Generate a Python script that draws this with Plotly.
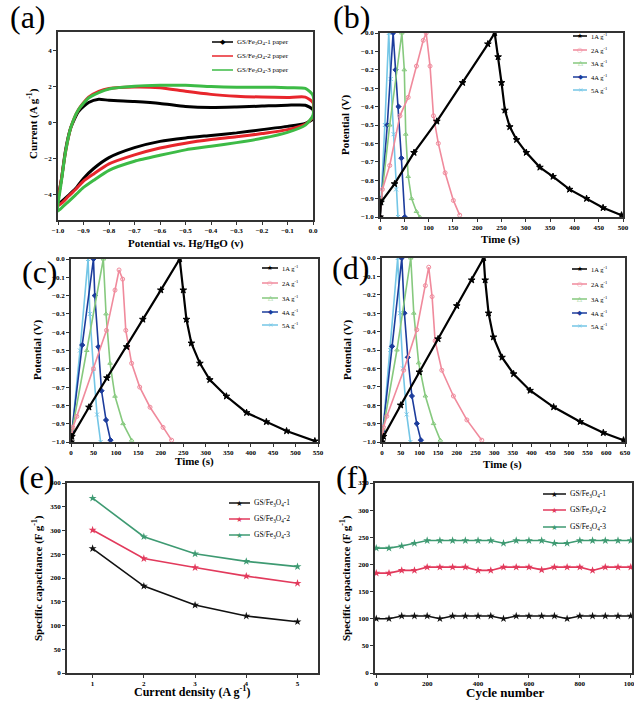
import plotly.graph_objects as go

W, H = 634, 704
FONT = "Liberation Serif"

# ---------------- (a) CV data ----------------
cv_pot_fwd = [-1.0, -0.985, -0.97, -0.95, -0.92, -0.88, -0.84, -0.8, -0.7, -0.6, -0.5, -0.4, -0.3, -0.2, -0.1, -0.03, 0.0]
cv_pot_rev = [0.0, -0.03, -0.1, -0.2, -0.3, -0.4, -0.5, -0.6, -0.7, -0.8, -0.86, -0.9, -0.93, -0.96, -0.98, -1.0]
cv1_fwd = [-4.5, -3.0, -1.5, -0.3, 0.6, 1.1, 1.28, 1.22, 1.15, 1.05, 0.88, 0.82, 0.85, 0.9, 0.95, 0.95, 0.7]
cv1_rev = [0.2, -0.05, -0.22, -0.4, -0.58, -0.72, -0.86, -1.05, -1.4, -1.95, -2.55, -3.1, -3.65, -4.05, -4.3, -4.5]
cv2_fwd = [-4.6, -3.0, -1.6, -0.3, 0.7, 1.4, 1.72, 1.88, 1.96, 1.92, 1.72, 1.55, 1.45, 1.4, 1.38, 1.4, 1.1]
cv2_rev = [0.3, -0.1, -0.4, -0.62, -0.8, -0.95, -1.15, -1.42, -1.8, -2.3, -2.85, -3.25, -3.7, -4.1, -4.4, -4.6]
cv3_fwd = [-4.9, -3.1, -1.6, -0.3, 0.7, 1.35, 1.65, 1.85, 2.0, 2.05, 2.05, 1.98, 1.95, 1.95, 1.92, 1.88, 1.5]
cv3_rev = [0.4, -0.15, -0.55, -0.88, -1.12, -1.32, -1.52, -1.82, -2.15, -2.65, -3.2, -3.6, -4.0, -4.4, -4.65, -4.9]
cv_names = ["GS/Fe<sub>3</sub>O<sub>4</sub>-1 paper", "GS/Fe<sub>3</sub>O<sub>4</sub>-2 paper", "GS/Fe<sub>3</sub>O<sub>4</sub>-3 paper"]

# ---------------- (b) GCD ----------------
b_t1 = [0, 2, 30, 70, 117, 170, 222, 236, 243, 250, 257, 267, 281, 301, 329, 356, 390, 425, 459, 497]
b_v1 = [-1.0, -0.92, -0.82, -0.65, -0.48, -0.27, -0.06, 0.0, -0.13, -0.27, -0.42, -0.51, -0.58, -0.65, -0.73, -0.78, -0.85, -0.9, -0.95, -0.99]
b_t2 = [0, 5, 20, 41, 58, 75, 89, 95, 103, 110, 120, 134, 151, 164]
b_v2 = [-1.0, -0.85, -0.72, -0.45, -0.35, -0.18, -0.04, 0.0, -0.18, -0.45, -0.6, -0.76, -0.91, -0.99]
b_t3 = [0, 3, 20, 45, 50, 53, 58, 65, 75, 82]
b_v3 = [-1.0, -0.9, -0.5, 0.0, -0.2, -0.55, -0.78, -0.9, -0.97, -1.0]
b_t4 = [0, 3, 15, 27, 32, 38, 44, 51]
b_v4 = [-1.0, -0.9, -0.5, 0.0, -0.2, -0.4, -0.68, -1.0]
b_t5 = [0, 2, 10, 18, 22, 28, 33, 37]
b_v5 = [-1.0, -0.92, -0.5, 0.0, -0.25, -0.55, -0.85, -1.0]

# ---------------- (c) GCD ----------------
c_t1 = [0, 2, 40, 80, 124, 160, 200, 242, 250, 257, 268, 287, 309, 346, 391, 435, 480, 543]
c_v1 = [-1.0, -0.97, -0.81, -0.65, -0.48, -0.33, -0.17, 0.0, -0.17, -0.33, -0.46, -0.57, -0.66, -0.75, -0.84, -0.89, -0.94, -0.995]
c_t2 = [0, 4, 13, 50, 79, 98, 107, 115, 122, 135, 153, 176, 205, 224]
c_v2 = [-1.0, -0.92, -0.86, -0.6, -0.39, -0.17, -0.06, -0.11, -0.39, -0.57, -0.7, -0.81, -0.92, -0.99]
c_t3 = [0, 3, 35, 72, 78, 87, 98, 116, 135]
c_v3 = [-1.0, -0.93, -0.5, 0.0, -0.3, -0.57, -0.75, -0.9, -0.99]
c_t4 = [0, 2, 25, 50, 53, 61, 68, 78, 88]
c_v4 = [-1.0, -0.94, -0.47, 0.0, -0.2, -0.48, -0.72, -0.88, -0.99]
c_t5 = [0, 2, 20, 38, 42, 50, 58, 66]
c_v5 = [-1.0, -0.95, -0.5, 0.0, -0.3, -0.6, -0.85, -1.0]

# ---------------- (d) GCD ----------------
d_t1 = [0, 4, 50, 100, 150, 200, 240, 272, 276, 285, 298, 321, 352, 396, 459, 530, 592, 646]
d_v1 = [-1.0, -0.97, -0.8, -0.62, -0.44, -0.26, -0.12, 0.0, -0.12, -0.3, -0.43, -0.54, -0.63, -0.72, -0.81, -0.89, -0.95, -0.99]
d_t2 = [0, 4, 13, 58, 93, 116, 125, 134, 142, 160, 191, 227, 267]
d_v2 = [-1.0, -0.92, -0.86, -0.61, -0.39, -0.15, -0.05, -0.21, -0.45, -0.61, -0.75, -0.88, -0.99]
d_t3 = [0, 3, 40, 77, 85, 98, 116, 138, 156]
d_v3 = [-1.0, -0.93, -0.5, 0.0, -0.3, -0.57, -0.75, -0.9, -0.99]
d_t4 = [0, 2, 27, 53, 60, 69, 80, 93, 104]
d_v4 = [-1.0, -0.94, -0.48, 0.0, -0.3, -0.54, -0.75, -0.9, -0.99]
d_t5 = [0, 2, 22, 42, 48, 56, 66, 76]
d_v5 = [-1.0, -0.95, -0.5, 0.0, -0.3, -0.6, -0.85, -1.0]

gcd_names = ["1A g<sup>-1</sup>", "2A g<sup>-1</sup>", "3A g<sup>-1</sup>", "4A g<sup>-1</sup>", "5A g<sup>-1</sup>"]

# ---------------- (e) rate ----------------
density = [1, 2, 3, 4, 5]
e_cap1 = [262, 183, 143, 120, 108]
e_cap2 = [301, 241, 222, 204, 189]
e_cap3 = [368, 287, 251, 235, 224]

# ---------------- (f) cycling ----------------
cycles = [0, 50, 100, 150, 200, 250, 300, 350, 400, 450, 500, 550, 600, 650, 700, 750, 800, 850, 900, 950, 1000]
f_cap1 = [100, 100, 105, 105, 105, 100, 105, 105, 105, 105, 100, 105, 105, 105, 105, 100, 105, 105, 105, 105, 105]
f_cap2 = [184, 184, 189, 189, 195, 195, 195, 195, 189, 189, 195, 195, 195, 190, 195, 195, 195, 189, 195, 195, 195]
f_cap3 = [230, 230, 234, 239, 244, 244, 244, 244, 244, 244, 239, 244, 244, 244, 239, 239, 244, 244, 244, 244, 244]
ef_names = ["GS/Fe<sub>3</sub>O<sub>4</sub>-1", "GS/Fe<sub>3</sub>O<sub>4</sub>-2", "GS/Fe<sub>3</sub>O<sub>4</sub>-3"]

cv_colors = ["#000000", "#e8262c", "#3dbb46"]
gcd_colors = ["#000000", "#f08a9c", "#86c97e", "#1c3c9c", "#74c6e6"]
gcd_symbols = ["star", "circle-open", "triangle-up-open", "diamond", "x-thin-open"]
gcd_glyphs = ["\u2605", "\u25cb", "\u25b3", "\u25c6", "\u00d7"]
ef_colors = ["#111111", "#e23a5c", "#3e9a72"]


def px_x(x):
    return x / W


def px_y(y):
    return 1 - y / H


fig = go.Figure()

# (a)
for fwd, rev, col, nm in zip([cv1_fwd, cv2_fwd, cv3_fwd], [cv1_rev, cv2_rev, cv3_rev], cv_colors, cv_names):
    fig.add_trace(go.Scatter(x=cv_pot_fwd + cv_pot_rev, y=fwd + rev, mode="lines",
                             line=dict(color=col, width=3, shape="spline", smoothing=0.6),
                             name=nm, xaxis="x", yaxis="y", showlegend=False))

# (b),(c),(d)
panels = [
    ([b_t1, b_t2, b_t3, b_t4, b_t5], [b_v1, b_v2, b_v3, b_v4, b_v5], "x2", "y2"),
    ([c_t1, c_t2, c_t3, c_t4, c_t5], [c_v1, c_v2, c_v3, c_v4, c_v5], "x3", "y3"),
    ([d_t1, d_t2, d_t3, d_t4, d_t5], [d_v1, d_v2, d_v3, d_v4, d_v5], "x4", "y4"),
]
for ts, vs, xa, ya in panels:
    for i in [4, 3, 2, 1, 0]:
        fig.add_trace(go.Scatter(x=ts[i], y=vs[i], mode="lines+markers",
                                 line=dict(color=gcd_colors[i], width=2.2 if i == 0 else 1.6),
                                 marker=dict(symbol=gcd_symbols[i], size=5 if i == 0 else 4, color=gcd_colors[i],
                                             line=dict(width=1, color=gcd_colors[i])),
                                 name=gcd_names[i], xaxis=xa, yaxis=ya, showlegend=False))

# (e)
for cap, col, nm in zip([e_cap1, e_cap2, e_cap3], ef_colors, ef_names):
    fig.add_trace(go.Scatter(x=density, y=cap, mode="lines+markers",
                             line=dict(color=col, width=1.6),
                             marker=dict(symbol="star", size=6, color=col),
                             name=nm, xaxis="x5", yaxis="y5", showlegend=False))
# (f)
for cap, col, nm in zip([f_cap1, f_cap2, f_cap3], ef_colors, ef_names):
    fig.add_trace(go.Scatter(x=cycles, y=cap, mode="lines+markers",
                             line=dict(color=col, width=1.6),
                             marker=dict(symbol="star", size=6, color=col),
                             name=nm, xaxis="x6", yaxis="y6", showlegend=False))

tickfont = dict(family=FONT, size=7, color="black", weight="bold")


def axis(domain, rng, dtick, anchor, fmt=None, tick0=None):
    d = dict(domain=domain, range=rng, dtick=dtick, anchor=anchor, showline=True, mirror=True,
             linecolor="#333333", linewidth=1.5, ticks="outside", ticklen=3, tickwidth=1,
             tickcolor="#333333", tickfont=tickfont, showgrid=False, zeroline=False,
             automargin=False, ticklabeloverflow="allow")
    if fmt:
        d["tickformat"] = fmt
    if tick0 is not None:
        d["tick0"] = tick0
    return d


def dom_x(a, b):
    return [px_x(a), px_x(b)]


def dom_y(top, bottom):
    return [px_y(bottom), px_y(top)]


layout = dict(
    width=W, height=H, margin=dict(l=0, r=0, t=0, b=0, autoexpand=False),
    paper_bgcolor="white", plot_bgcolor="white", showlegend=False,
    xaxis=axis(dom_x(58, 313), [-1.0, 0.0], 0.1, "y", ".1f"),
    yaxis=axis(dom_y(32, 220), [-5.4, 5.0], 2, "x", None, 0),
    xaxis2=axis(dom_x(380, 623), [0, 500], 50, "y2"),
    yaxis2=axis(dom_y(33, 217), [-1.0, 0.0], 0.1, "x2", ".1f"),
    xaxis3=axis(dom_x(71, 318), [0, 550], 50, "y3"),
    yaxis3=axis(dom_y(259, 442), [-1.0, 0.0], 0.1, "x3", ".1f"),
    xaxis4=axis(dom_x(382, 625), [0, 650], 50, "y4"),
    yaxis4=axis(dom_y(258, 442), [-1.0, 0.0], 0.1, "x4", ".1f"),
    xaxis5=axis(dom_x(67, 318), [0.5, 5.4], 1, "y5"),
    yaxis5=axis(dom_y(483, 673), [0, 400], 50, "x5"),
    xaxis6=axis(dom_x(375, 632), [-5, 1005], 200, "y6"),
    yaxis6=axis(dom_y(483, 673), [0, 350], 50, "x6"),
)
fig.update_layout(**layout)

ann = []
shapes = []


def add_title(text, x, y, rot=0, size=11):
    ann.append(dict(text=text, x=px_x(x), y=px_y(y), xref="paper", yref="paper", showarrow=False,
                    textangle=rot, font=dict(family=FONT, size=size, color="black", weight="bold"),
                    xanchor="center", yanchor="middle"))


def add_legend(x0, length, ys, names, colors, glyphs, size):
    for y, nm, col, g in zip(ys, names, colors, glyphs):
        shapes.append(dict(type="line", xref="paper", yref="paper", x0=px_x(x0), x1=px_x(x0 + length),
                           y0=px_y(y), y1=px_y(y), line=dict(color=col, width=1.5)))
        if g:
            ann.append(dict(text=g, x=px_x(x0 + length / 2), y=px_y(y), xref="paper", yref="paper",
                            showarrow=False, xanchor="center", yanchor="middle",
                            font=dict(family="DejaVu Sans", size=size, color=col)))
        ann.append(dict(text=nm, x=px_x(x0 + length + 2), y=px_y(y), xref="paper", yref="paper",
                        showarrow=False, xanchor="left", yanchor="middle",
                        font=dict(family=FONT, size=size, color="black")))


add_legend(212, 21, [42, 56, 70], cv_names, cv_colors, ["\u25c6", "", ""], 7)
add_legend(573, 14, [36, 50, 63, 77, 90], gcd_names, gcd_colors, gcd_glyphs, 6.5)
add_legend(262, 16, [268, 283, 298, 312, 325], gcd_names, gcd_colors, gcd_glyphs, 6.5)
add_legend(572, 15, [269, 284, 299, 313, 326], gcd_names, gcd_colors, gcd_glyphs, 6.5)
add_legend(229, 21, [503, 519, 535], ef_names, ef_colors, ["\u2605"] * 3, 7.5)
add_legend(543, 23, [494, 510, 527], ef_names, ef_colors, ["\u2605"] * 3, 7.5)

add_title("Current (A g<sup>-1</sup>)", 32, 124, -90)
add_title("Potential vs. Hg/HgO (v)", 186, 243)
add_title("Potential (V)", 346, 125, -90)
add_title("Time (s)", 500, 240)
add_title("Potential (V)", 38, 350, -90)
add_title("Time (s)", 195, 461)
add_title("Potential (V)", 348, 350, -90)
add_title("Time (s)", 503, 464)
add_title("Specific capacitance (F g<sup>-1</sup>)", 37, 578, -90)
add_title("Current density (A g<sup>-1</sup>)", 192, 691, 0, 12)
add_title("Specific capacitance (F g<sup>-1</sup>)", 345, 578, -90)
add_title("Cycle number", 505, 692, 0, 13)

for lab, x, y in [("(a)", 28, 17), ("(b)", 351, 17), ("(c)", 40, 272), ("(d)", 350, 268), ("(e)", 37, 477), ("(f)", 352, 477)]:
    ann.append(dict(text=lab, x=px_x(x), y=px_y(y), xref="paper", yref="paper", showarrow=False,
                    font=dict(family=FONT, size=32, color="black"), xanchor="center", yanchor="middle"))

fig.update_layout(annotations=ann, shapes=shapes, hovermode=False)
fig.write_html("out.html", config={"displayModeBar": False},
               post_script="document.body.style.margin='0px';document.body.style.padding='0px';"
                           "document.body.style.overflow='hidden';")
